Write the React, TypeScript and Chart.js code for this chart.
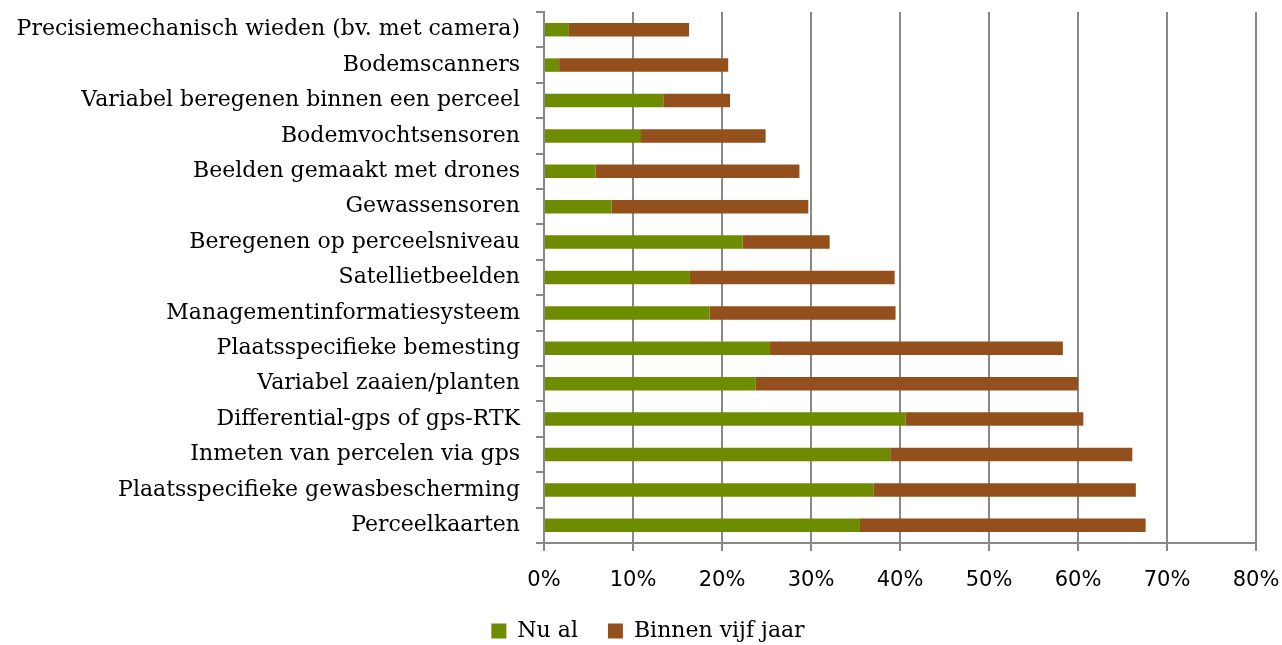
import React, { useEffect, useRef } from "react";
import { Chart, registerables } from "chart.js";

Chart.register(...registerables);

const categories: string[] = [
  "Precisiemechanisch wieden (bv. met camera)",
  "Bodemscanners",
  "Variabel beregenen binnen een perceel",
  "Bodemvochtsensoren",
  "Beelden gemaakt met drones",
  "Gewassensoren",
  "Beregenen op perceelsniveau",
  "Satellietbeelden",
  "Managementinformatiesysteem",
  "Plaatsspecifieke bemesting",
  "Variabel zaaien/planten",
  "Differential-gps of gps-RTK",
  "Inmeten van percelen via gps",
  "Plaatsspecifieke gewasbescherming",
  "Perceelkaarten",
];

const nuAl: number[] = [2.8, 1.7, 13.4, 10.9, 5.8, 7.6, 22.3, 16.4, 18.6, 25.4, 23.8, 40.6, 38.9, 37.0, 35.5];
const binnenVijfJaar: number[] = [13.5, 19.0, 7.5, 14.0, 22.9, 22.1, 9.8, 23.0, 20.9, 32.9, 36.2, 20.0, 27.2, 29.5, 32.1];

const seriesNames: string[] = ["Nu al", "Binnen vijf jaar"];
const xTicks: number[] = [0, 10, 20, 30, 40, 50, 60, 70, 80];

export default function App() {
  const ref = useRef<HTMLCanvasElement | null>(null);

  useEffect(() => {
    if (!ref.current) return;
    const grid = "#888888";
    const chart = new Chart(ref.current, {
      type: "bar",
      data: {
        labels: categories,
        datasets: [
          {
            label: seriesNames[0],
            data: nuAl,
            backgroundColor: "#6f8b00",
            categoryPercentage: 0.4,
            barPercentage: 0.95,
          },
          {
            label: seriesNames[1],
            data: binnenVijfJaar,
            backgroundColor: "#93501d",
            categoryPercentage: 0.4,
            barPercentage: 0.95,
          },
        ],
      },
      options: {
        indexAxis: "y",
        animation: false,
        responsive: true,
        maintainAspectRatio: false,
        layout: { padding: { top: 12, right: 0, left: 14, bottom: -7 } },
        plugins: {
          tooltip: { enabled: false },
          legend: {
            position: "bottom",
            labels: {
              font: { family: "DejaVu Serif", size: 22 },
              color: "#000",
              boxWidth: 15,
              boxHeight: 15,
              padding: 30,
            },
          },
        },
        scales: {
          x: {
            stacked: true,
            min: 0,
            max: 80,
            afterBuildTicks: (scale: any) => {
              scale.ticks = xTicks.map((v) => ({ value: v }));
            },
            afterFit: (scale: any) => {
              scale.height = 47;
              scale.paddingLeft = 0;
              scale.paddingRight = 26;
            },
            ticks: {
              callback: (v: any) => `${v}%`,
              font: { family: "DejaVu Sans", size: 21 },
              color: "#000",
              padding: 17,
              maxRotation: 0,
            },
            grid: {
              color: grid,
              lineWidth: 2,
              tickLength: 8,
              drawTicks: true,
            },
            border: { color: grid, width: 2 },
          },
          y: {
            stacked: true,
            afterFit: (scale: any) => {
              scale.width = 530;
              scale.paddingTop = 0;
              scale.paddingBottom = 0;
            },
            ticks: {
              font: { family: "DejaVu Serif", size: 22 },
              color: "#000",
              padding: 16,
              autoSkip: false,
            },
            grid: {
              color: grid,
              lineWidth: 2,
              tickLength: 8,
              drawOnChartArea: false,
              drawTicks: true,
              offset: true,
            },
            border: { color: grid, width: 2 },
          },
        },
      },
    });
    return () => chart.destroy();
  }, []);

  return (
    <div style={{ position: "fixed", left: 0, top: 0, width: 1282, height: 645, background: "#fff" }}>
      <canvas ref={ref} />
    </div>
  );
}
